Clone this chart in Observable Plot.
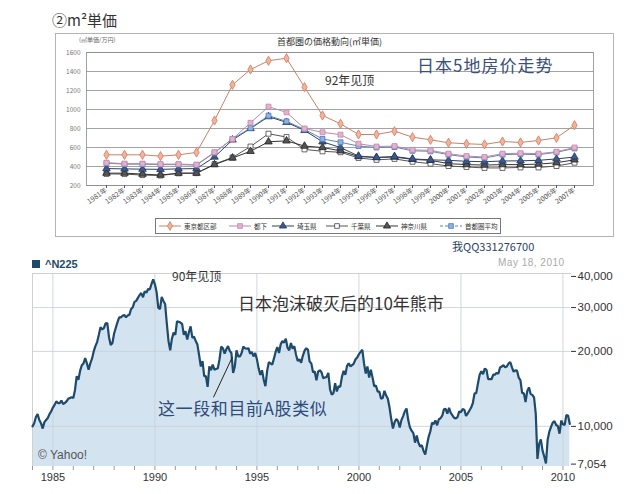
<!DOCTYPE html>
<html><head><meta charset="utf-8">
<script src="https://cdn.jsdelivr.net/npm/d3@7"></script>
<script src="https://cdn.jsdelivr.net/npm/@observablehq/plot@0.6"></script>
<style>
html,body{margin:0;padding:0;background:#fff;}
#root{position:relative;width:637px;height:494px;overflow:hidden;font-family:"Noto Sans CJK SC",sans-serif;}
.t{position:absolute;white-space:nowrap;line-height:1;}
#root svg{position:absolute;left:0;}
.lg{position:absolute;top:0;height:14px;display:flex;align-items:center;font-size:6.5px;color:#333;font-family:"Noto Sans CJK JP",sans-serif;white-space:nowrap;}
.lg svg{position:static !important;margin-right:3px;}
</style></head><body><div id="root"></div>
<script>
// ---------- top chart data: 首都圏の価格動向 (㎡単価 / 万円) ----------
const topYears = [1981,1982,1983,1984,1985,1986,1987,1988,1989,1990,1991,1992,1993,1994,1995,1996,1997,1998,1999,2000,2001,2002,2003,2004,2005,2006,2007];
const seriesNames = ["東京都区部","都下","埼玉県","千葉県","神奈川県","首都圏平均"];
const tokyoKubu = [523,523,523,509,523,548,884,1260,1421,1513,1540,1235,937,850,737,737,772,709,681,650,639,632,663,653,674,702,835];
const toka      = [440,430,430,425,425,420,550,690,860,1030,970,800,760,735,640,610,615,575,570,535,510,500,535,540,535,555,600];
const saitama   = [378,375,372,370,375,378,500,680,800,925,865,780,660,600,510,495,505,480,470,465,455,450,458,460,465,480,500];
const chiba     = [322,320,310,305,328,330,425,495,610,745,710,580,560,550,490,470,480,450,430,405,395,385,385,390,390,405,440];
const kanagawa  = [330,330,320,310,330,330,420,490,560,660,670,615,600,565,505,495,500,475,465,430,420,415,420,420,425,440,470];
const shutoAvg  = [435,425,425,420,420,415,545,690,805,935,875,790,690,655,615,600,605,565,560,525,500,490,525,530,525,550,590];
const topYTicks = [200,400,600,800,1000,1200,1400,1600];

// ---------- bottom chart data: ^N225 monthly, Jan 1984 – May 2010 ----------
const n225StartYear = 1984;
const n225Monthly = [
 10000,10300,10900,11200,10600,10300,9800,10400,10600,10800,11200,11500, // 1984
 11900,12200,12600,12400,12400,12700,12300,12400,12600,12900,13000,13100, // 1985
 13000,14000,15900,15400,16700,17600,17900,18800,17900,16900,17900,18700, // 1986
 20000,21000,21800,23300,25000,24500,24800,25900,26000,22800,21200,21600, // 1987
 23600,24900,26200,27400,27400,27800,28000,27400,27900,28100,29600,30100, // 1988
 31600,31900,32800,33700,34300,33000,34900,34400,35600,35500,37300,38900, // 1989
 37200,34600,29900,29600,33100,31900,31000,25900,22000,20200,22500,23800, // 1990
 23300,26400,26300,26100,25800,23300,24100,22300,23900,25200,22700,22900, // 1991
 22000,21300,19300,17400,18300,15900,15900,14400,17400,16800,17700,16900, // 1992
 17000,17100,18600,20900,20600,19600,20400,21000,20100,19700,16400,17400, // 1993
 20200,19100,19100,19700,20900,20600,20500,20600,19600,19900,19100,19700, // 1994
 18600,17100,16100,16800,15400,14500,16700,18100,17900,17700,18700,19900, // 1995
 20800,19700,21400,22000,21700,22500,20700,20200,21600,20500,21000,19400, // 1996
 18300,18600,18000,19200,20100,20600,20300,18200,17900,16500,16600,15300, // 1997
 16600,16800,16500,15600,15700,15800,16400,14100,13400,13600,14900,13800, // 1998
 14500,14400,15800,16700,16100,17500,17900,17400,17600,17900,18600,18900, // 1999
 19500,19900,20300,17900,16300,17400,15700,16900,15700,14500,14600,13800, // 2000
 13800,12900,13000,13900,13300,12900,11900,10700,9800,10400,10700,10500,  // 2001
 9900,10600,11000,11500,11800,10600,9900,9600,9400,8600,9200,8600,        // 2002
 8300,8400,7970,7700,8400,9080,9560,10340,10220,10560,10100,10680,         // 2003
 10780,11040,11700,11760,11240,11860,11330,11080,10820,10770,10900,11490,  // 2004
 11390,11740,11670,11010,11280,11580,11900,12410,13570,13600,14870,16110,  // 2005
 16650,16200,17060,16900,15470,15500,15460,16140,16130,16400,16270,17230,  // 2006
 17380,17600,17290,17400,17880,18140,17250,16570,16790,16740,15680,15310,  // 2007
 13590,13600,12530,13850,14340,13480,13380,13070,11260,7400,8510,8860,     // 2008
 7990,7570,7100,8830,9520,9960,10360,10490,10130,10030,9350,10550,         // 2009
 10200,10130,11090,11060,10240                                             // 2010
];
const n225YTicks = [7054,10000,20000,30000,40000];
const n225XTicks = [1984,1985,1986,1987,1988,1989,1990,1991,1992,1993,1994,1995,1996,1997,1998,1999,2000,2001,2002,2003,2004,2005,2006,2007,2008,2009,2010];
const n225YearLabels = [1985,1990,1995,2000,2005,2010];
const n225Domain = [6900, 41100];
const pointer = [{x1:1992.87, y1:13080, x2:1993.8, y2:19000}];

// ---------- styles ----------
const styles = {
  "東京都区部": {stroke:"#c9826a", fill:"#f0b49c", mstroke:"#d07a5c", symbol:"diamond"},
  "都下":       {stroke:"#b98aa6", fill:"#e2b3cf", mstroke:"#c487aa", symbol:"square"},
  "埼玉県":     {stroke:"#2d3f66", fill:"#3c5a8c", mstroke:"#22355c", symbol:"triangle"},
  "千葉県":     {stroke:"#555",    fill:"#fff",    mstroke:"#444",    symbol:"square"},
  "神奈川県":   {stroke:"#333",    fill:"#555",    mstroke:"#222",    symbol:"triangle"},
  "首都圏平均": {stroke:"#5b84c4", fill:"#8fb3e0", mstroke:"#4d78bd", symbol:"square"}
};
const valuesBySeries = {
  "東京都区部": tokyoKubu, "都下": toka, "埼玉県": saitama,
  "千葉県": chiba, "神奈川県": kanagawa, "首都圏平均": shutoAvg
};

const root = document.getElementById("root");
function addText(txt, left, top, size, color, extra) {
  const d = document.createElement("div");
  d.className = "t";
  d.textContent = txt;
  d.style.left = left + "px"; d.style.top = top + "px";
  d.style.fontSize = size + "px"; d.style.color = color;
  if (extra) Object.assign(d.style, extra);
  root.appendChild(d);
  return d;
}

// ---------- top chart ----------
const box = document.createElement("div");
Object.assign(box.style, {position:"absolute", left:"55px", top:"33px", width:"557px", height:"202px", border:"1px solid #b4b4b4"});
root.appendChild(box);

const drawOrder = ["千葉県","神奈川県","埼玉県","首都圏平均","都下","東京都区部"];
const topMarks = [
  Plot.gridY(topYTicks, {stroke:"#8c8c8c", strokeOpacity:1, strokeWidth:0.8}),
  Plot.frame({stroke:"#8c8c8c", strokeWidth:0.8}),
  Plot.axisY({ticks: topYTicks, tickFormat:d3.format("d"), tickSize:0, tickPadding:6, fontSize:6.5, color:"#777", label:null}),
  Plot.axisX({tickRotate:-35, tickFormat:d => d + "年", fontSize:7, tickSize:3, tickPadding:1, color:"#555", label:null})
];
for (const s of drawOrder) {
  const rows = topYears.map((y, i) => ({year:y, v:valuesBySeries[s][i]}));
  const st = styles[s];
  topMarks.push(Plot.line(rows, {x:"year", y:"v", stroke:st.stroke, strokeWidth:1}));
  topMarks.push(Plot.dot(rows, {x:"year", y:"v", symbol:st.symbol, r:2.8, fill:st.fill, stroke:st.mstroke, strokeWidth:0.8}));
}
const topChart = Plot.plot({
  width:637, height:240,
  marginLeft:86, marginRight:44, marginTop:52, marginBottom:55,
  style:{fontFamily:"'Noto Sans CJK JP', sans-serif", background:"transparent", overflow:"visible"},
  x:{type:"point", domain:topYears, padding:0.5, label:null},
  y:{domain:[200,1600], label:null},
  marks: topMarks
});
topChart.style.top = "0px";
root.appendChild(topChart);

addText("②m²単価", 52, 12, 15, "#333", {fontFamily:"'Noto Sans CJK JP',sans-serif"});
addText("(㎡単価/万円)", 79, 37, 6, "#666", {fontFamily:"'Noto Sans CJK JP',sans-serif"});
addText("首都圏の価格動向(㎡単価)", 277, 37, 9, "#333", {fontFamily:"'Noto Sans CJK JP',sans-serif"});
addText("日本5地房价走势", 417, 56, 17, "#3a5079", {letterSpacing:"1px"});
addText("92年见顶", 325, 73.5, 12, "#333");

// legend
const legend = document.createElement("div");
Object.assign(legend.style, {position:"absolute", left:"155px", top:"218px", width:"344px", height:"14px", border:"1px solid #777", background:"#fff"});
root.appendChild(legend);
const legendPos = [3, 73, 116, 170, 220, 284];
seriesNames.forEach((s, i) => {
  const st = styles[s];
  const item = document.createElement("div");
  item.className = "lg";
  item.style.left = legendPos[i] + "px";
  const ns = "http://www.w3.org/2000/svg";
  const sv = document.createElementNS(ns, "svg");
  sv.setAttribute("width", 22); sv.setAttribute("height", 10);
  const ln = document.createElementNS(ns, "line");
  ln.setAttribute("x1", 0); ln.setAttribute("x2", 22); ln.setAttribute("y1", 5); ln.setAttribute("y2", 5);
  ln.setAttribute("stroke", st.stroke); ln.setAttribute("stroke-width", 1);
  if (s === "首都圏平均") ln.setAttribute("stroke-dasharray", "3,2");
  sv.appendChild(ln);
  const p = document.createElementNS(ns, "path");
  p.setAttribute("d", d3.symbol(st.symbol === "diamond" ? d3.symbolDiamond : st.symbol === "square" ? d3.symbolSquare : d3.symbolTriangle, 22)());
  p.setAttribute("transform", "translate(11,5)");
  p.setAttribute("fill", st.fill); p.setAttribute("stroke", st.mstroke); p.setAttribute("stroke-width", 0.8);
  sv.appendChild(p);
  item.appendChild(sv);
  const tx = document.createElement("span");
  tx.textContent = s;
  item.appendChild(tx);
  legend.appendChild(item);
});

addText("我QQ331276700", 452, 240.5, 11, "#2a4365", {fontFamily:"'Noto Sans CJK SC',sans-serif"});

// ---------- bottom chart ----------
const n225 = n225Monthly.map((v, i) => ({t: n225StartYear + i / 12, v}));
const bottomChart = Plot.plot({
  width:637, height:244,
  marginLeft:32, marginRight:67, marginTop:23, marginBottom:28,
  style:{fontFamily:"'Liberation Sans', Arial, sans-serif", background:"transparent", color:"#333", overflow:"visible"},
  x:{domain:[1984, 2010.37], label:null},
  y:{type:"log", domain:n225Domain, label:null},
  marks:[
    Plot.areaY(n225, {x:"t", y1:n225Domain[0], y2:"v", fill:"#d4e3f0"}),
    Plot.gridX(n225YearLabels, {stroke:"#c9d3dc", strokeOpacity:0.9}),
    Plot.gridY([10000,20000,30000], {stroke:"#c9d3dc", strokeOpacity:0.9}),
    Plot.frame({anchor:"top", stroke:"#d0d0d0"}),
    Plot.frame({anchor:"left", stroke:"#d0d0d0"}),
    Plot.line(n225, {x:"t", y:"v", stroke:"#1e4a6c", strokeWidth:2.2, strokeLinejoin:"miter"}),
    Plot.link(pointer, {x1:"x1", y1:"y1", x2:"x2", y2:"y2", stroke:"#222", strokeWidth:1}),
    Plot.axisX({ticks:n225XTicks, tickFormat:d => n225YearLabels.includes(d) ? String(d) : "", tickSize:4, tickPadding:3, fontSize:11, color:"#333", stroke:"#999"}),
    Plot.axisY({anchor:"right", ticks:n225YTicks, tickFormat:d3.format(","), tickSize:5, tickPadding:2, fontSize:11.5, color:"#333"})
  ]
});
bottomChart.style.top = "250px";
root.appendChild(bottomChart);

const sq = document.createElement("div");
Object.assign(sq.style, {position:"absolute", left:"32px", top:"260px", width:"8px", height:"8px", background:"#1e4a6c"});
root.appendChild(sq);
addText("^N225", 45, 258.5, 11, "#1e4a6c", {fontFamily:"'Liberation Sans',Arial,sans-serif", fontWeight:"bold"});
addText("May 18, 2010", 498, 258, 10, "#aaa", {fontFamily:"'Liberation Sans',Arial,sans-serif", letterSpacing:"0.5px"});
addText("90年见顶", 172, 270, 12, "#333");
addText("日本泡沫破灭后的10年熊市", 238, 293.5, 17, "#333");
addText("这一段和目前A股类似", 158, 399, 17, "#2e4b7a", {letterSpacing:"0.6px"});
addText("© Yahoo!", 38, 448.5, 12, "#555", {fontFamily:"'Liberation Sans',Arial,sans-serif"});
</script></body></html>
